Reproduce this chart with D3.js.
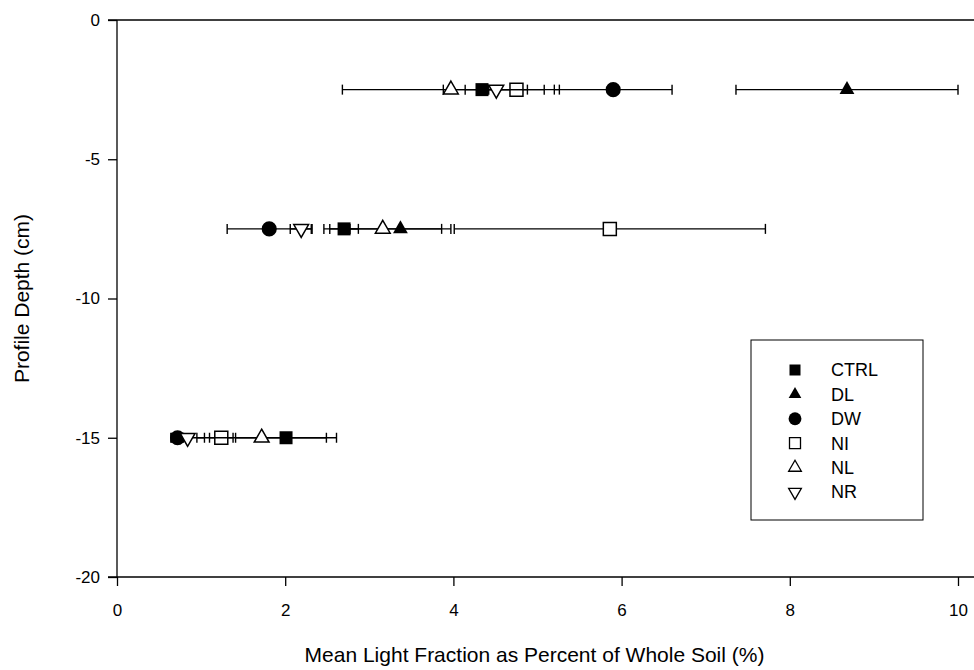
<!DOCTYPE html>
<html>
<head>
<meta charset="utf-8">
<script src="https://cdn.jsdelivr.net/npm/d3@7"></script>
<style>
    body { margin: 0; background: #fff; }
    svg { display: block; }
    text { font-family: "Liberation Sans", Arial, sans-serif; fill: #000; }
</style>
</head>
<body>
<div id="chart"></div>
<script>
// depths of the three sampled layers (cm)
const depths = [-2.5, -7.5, -15];
const treatments = ["CTRL", "DL", "DW", "NI", "NL", "NR"];

// mean light fraction (%) per depth, and the error bar half width
const ctrlMean = [4.34, 2.70, 2.01];
const ctrlErr = [0.46, 0.17, 0.60];
const dlMean = [8.68, 3.37, null];
const dlErr = [1.32, 0.60, null];
const dwMean = [5.90, 1.81, 0.72];
const dwErr = [0.70, 0.50, 0.07];
const niMean = [4.75, 5.86, 1.24];
const niErr = [0.33, 1.85, 0.14];
const nlMean = [3.97, 3.16, 1.72];
const nlErr = [1.29, 0.70, 0.77];
const nrMean = [4.51, 2.19, 0.84];
const nrErr = [0.37, 0.13, 0.20];

const xTicks = [0, 2, 4, 6, 8, 10];
const yTicks = [0, -5, -10, -15, -20];

const series = [
    {name: treatments[0], mean: ctrlMean, err: ctrlErr, shape: d3.symbolSquare, filled: true, rot: 0},
    {name: treatments[1], mean: dlMean, err: dlErr, shape: d3.symbolTriangle, filled: true, rot: 0},
    {name: treatments[2], mean: dwMean, err: dwErr, shape: d3.symbolCircle, filled: true, rot: 0},
    {name: treatments[3], mean: niMean, err: niErr, shape: d3.symbolSquare, filled: false, rot: 0},
    {name: treatments[4], mean: nlMean, err: nlErr, shape: d3.symbolTriangle, filled: false, rot: 0},
    {name: treatments[5], mean: nrMean, err: nrErr, shape: d3.symbolTriangle, filled: false, rot: 180}
];

const width = 974, height = 670;

const x = d3.scaleLinear().domain([0, 10]).range([117, 958]);
const y = d3.scaleLinear().domain([0, -20]).range([20, 577]);

const svg = d3.select("#chart").append("svg")
    .attr("width", width)
    .attr("height", height);

// symbol area for the plot and the legend
function symbolSize(shape, big) {
    if (shape === d3.symbolSquare) return big ? 169 : 121;
    if (shape === d3.symbolCircle) return big ? 180 : 130;
    return big ? 95 : 70;
}

// axes (plain hyphen minus like the original)
const xAxis = d3.axisBottom(x).tickValues(xTicks).tickSize(9).tickPadding(18).tickFormat(d => String(d));
const yAxis = d3.axisLeft(y).tickValues(yTicks).tickSize(9).tickPadding(8).tickFormat(d => String(d));

const gx = svg.append("g").attr("transform", `translate(0,${y(-20)})`).call(xAxis);
const gy = svg.append("g").attr("transform", `translate(${x(0)},0)`).call(yAxis);

[gx, gy].forEach(g => {
    g.select(".domain").remove();
    g.selectAll(".tick line").attr("stroke", "#000").attr("stroke-width", 1.3);
    g.selectAll(".tick text").style("font-size", "17px").attr("fill", "#000");
});

// axis lines: top and bottom run across, left spans the depth range
svg.append("line")
    .attr("x1", x(0) - 9).attr("x2", width)
    .attr("y1", y(-20)).attr("y2", y(-20))
    .attr("stroke", "#000").attr("stroke-width", 1.3);
svg.append("line")
    .attr("x1", x(0) - 9).attr("x2", width)
    .attr("y1", y(0)).attr("y2", y(0))
    .attr("stroke", "#000").attr("stroke-width", 1.3);
svg.append("line")
    .attr("x1", x(0)).attr("x2", x(0))
    .attr("y1", y(0)).attr("y2", y(-20))
    .attr("stroke", "#000").attr("stroke-width", 1.3);

// titles
svg.append("text")
    .attr("x", x(5) - 3)
    .attr("y", 662)
    .attr("text-anchor", "middle")
    .style("font-size", "21px")
    .text("Mean Light Fraction as Percent of Whole Soil (%)");

svg.append("text")
    .attr("transform", `translate(29,${y(-10)}) rotate(-90)`)
    .attr("text-anchor", "middle")
    .style("font-size", "21px")
    .text("Profile Depth (cm)");

// error bars and markers, one series at a time
const capH = 5;
series.forEach(s => {
    const pts = depths.map((d, i) => ({depth: d, mean: s.mean[i], err: s.err[i]}))
        .filter(p => p.mean !== null);
    const g = svg.append("g").attr("class", "series");

    pts.forEach(p => {
        const lo = x(p.mean - p.err), hi = x(p.mean + p.err), yy = y(p.depth);
        g.append("line").attr("x1", lo).attr("x2", hi).attr("y1", yy).attr("y2", yy)
            .attr("stroke", "#000").attr("stroke-width", 1.4);
        [lo, hi].forEach(cx => {
            g.append("line").attr("x1", cx).attr("x2", cx)
                .attr("y1", yy - capH).attr("y2", yy + capH)
                .attr("stroke", "#000").attr("stroke-width", 1.4);
        });
    });

    g.selectAll("path.mark")
        .data(pts)
        .enter().append("path")
        .attr("class", "mark")
        .attr("d", d3.symbol().type(s.shape).size(symbolSize(s.shape, true)))
        .attr("transform", p => `translate(${x(p.mean)},${y(p.depth)}) rotate(${s.rot})`)
        .attr("fill", s.filled ? "#000" : "#fff")
        .attr("stroke", "#000")
        .attr("stroke-width", s.filled ? 0 : 1.5);
});

// legend
const legend = svg.append("g").attr("transform", "translate(751,340)");
legend.append("rect")
    .attr("width", 172).attr("height", 180)
    .attr("fill", "#fff").attr("stroke", "#000").attr("stroke-width", 1);

series.forEach((s, i) => {
    const ly = 30 + i * 24.4;
    legend.append("path")
        .attr("d", d3.symbol().type(s.shape).size(symbolSize(s.shape, false)))
        .attr("transform", `translate(44,${ly}) rotate(${s.rot})`)
        .attr("fill", s.filled ? "#000" : "#fff")
        .attr("stroke", "#000")
        .attr("stroke-width", s.filled ? 0 : 1.3);
    legend.append("text")
        .attr("x", 80)
        .attr("y", ly)
        .attr("dy", "0.36em")
        .style("font-size", "18px")
        .text(s.name);
});
</script>
</body>
</html>
